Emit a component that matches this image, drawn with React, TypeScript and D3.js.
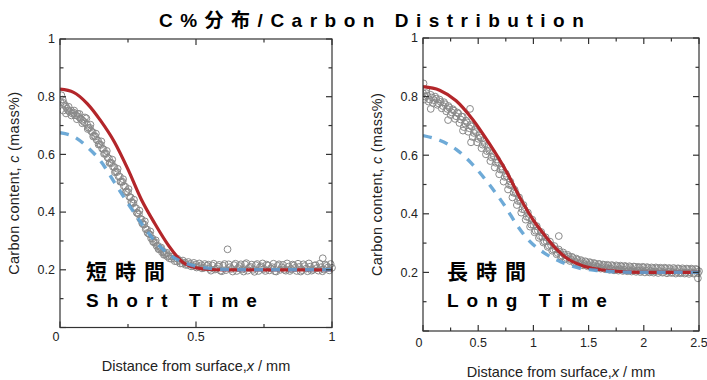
import React from 'react';
import * as d3 from 'd3';

const TITLE = 'C%分布/Carbon Distribution';
const Y_TICKS = [0, 0.2, 0.4, 0.6, 0.8, 1];
const Y_MINOR = [0.1, 0.3, 0.5, 0.7, 0.9];
const SHORT_X_TICKS = [0, 0.5, 1];
const SHORT_X_MINOR = [0.25, 0.75];
const LONG_X_TICKS = [0, 0.5, 1, 1.5, 2, 2.5];
const LONG_X_MINOR = [0.25, 0.75, 1.25, 1.75, 2.25];

// Short time: measured points [x mm, C mass%]
const SHORT_MEASURED: [number, number][] = [
  [0.005, 0.805], [0.01, 0.79], [0.014, 0.778], [0.018, 0.77], [0.022, 0.765], [0.026, 0.758], [0.03, 0.752], [0.035, 0.748],
  [0.04, 0.752], [0.045, 0.742], [0.05, 0.745], [0.055, 0.736], [0.06, 0.735], [0.065, 0.741], [0.07, 0.73], [0.075, 0.724],
  [0.08, 0.72], [0.085, 0.716], [0.09, 0.711], [0.097, 0.725], [0.1, 0.703], [0.105, 0.692], [0.11, 0.692], [0.115, 0.68],
  [0.12, 0.677], [0.125, 0.665], [0.13, 0.662], [0.135, 0.65], [0.14, 0.648], [0.145, 0.636], [0.15, 0.633], [0.155, 0.62],
  [0.16, 0.618], [0.165, 0.604], [0.17, 0.602], [0.175, 0.589], [0.18, 0.586], [0.185, 0.572], [0.19, 0.57], [0.195, 0.557],
  [0.2, 0.556], [0.205, 0.541], [0.21, 0.539], [0.215, 0.524], [0.22, 0.523], [0.225, 0.506], [0.23, 0.505], [0.235, 0.49],
  [0.24, 0.488], [0.245, 0.472], [0.25, 0.469], [0.255, 0.453], [0.26, 0.451], [0.265, 0.433], [0.27, 0.431], [0.275, 0.416],
  [0.28, 0.413], [0.285, 0.396], [0.29, 0.393], [0.295, 0.377], [0.3, 0.375], [0.305, 0.358], [0.31, 0.357], [0.315, 0.341],
  [0.32, 0.34], [0.325, 0.326], [0.33, 0.323], [0.335, 0.309], [0.34, 0.308], [0.345, 0.295], [0.35, 0.295], [0.355, 0.283],
  [0.36, 0.283], [0.365, 0.271], [0.37, 0.273], [0.375, 0.261], [0.38, 0.263], [0.385, 0.253], [0.39, 0.255], [0.395, 0.246],
  [0.4, 0.248], [0.41, 0.238], [0.42, 0.239], [0.43, 0.229], [0.44, 0.231], [0.45, 0.222], [0.46, 0.225], [0.47, 0.217],
  [0.48, 0.221], [0.49, 0.213], [0.5, 0.218], [0.51, 0.21], [0.52, 0.216], [0.53, 0.207], [0.54, 0.214], [0.55, 0.203],
  [0.56, 0.215], [0.57, 0.201], [0.58, 0.212], [0.59, 0.197], [0.6, 0.214], [0.61, 0.199], [0.616, 0.271], [0.62, 0.219],
  [0.63, 0.203], [0.64, 0.216], [0.65, 0.196], [0.66, 0.213], [0.67, 0.201], [0.68, 0.219], [0.69, 0.197], [0.7, 0.21],
  [0.71, 0.2], [0.72, 0.216], [0.73, 0.196], [0.74, 0.212], [0.75, 0.203], [0.76, 0.218], [0.77, 0.198], [0.78, 0.209],
  [0.79, 0.195], [0.8, 0.214], [0.81, 0.2], [0.82, 0.217], [0.83, 0.197], [0.84, 0.211], [0.85, 0.202], [0.86, 0.215],
  [0.87, 0.196], [0.88, 0.21], [0.89, 0.199], [0.9, 0.213], [0.91, 0.195], [0.92, 0.211], [0.93, 0.2], [0.94, 0.216],
  [0.95, 0.197], [0.96, 0.209], [0.966, 0.24], [0.97, 0.201], [0.98, 0.214], [0.99, 0.198], [1.0, 0.207],
];
const SHORT_MEASURED_B: [number, number][] = [
  [0.003, 0.78], [0.012, 0.752], [0.022, 0.742], [0.032, 0.765], [0.042, 0.735], [0.052, 0.752], [0.062, 0.722], [0.072, 0.74],
  [0.082, 0.708], [0.092, 0.728], [0.102, 0.688], [0.112, 0.703], [0.122, 0.662], [0.132, 0.672], [0.142, 0.634], [0.152, 0.645],
  [0.162, 0.602], [0.172, 0.612], [0.182, 0.57], [0.192, 0.582], [0.202, 0.538], [0.212, 0.55], [0.222, 0.505], [0.232, 0.514],
  [0.242, 0.47], [0.252, 0.48], [0.262, 0.435], [0.272, 0.443], [0.282, 0.398], [0.292, 0.405], [0.302, 0.362], [0.312, 0.368],
  [0.322, 0.328], [0.332, 0.333], [0.342, 0.298], [0.352, 0.302], [0.362, 0.272], [0.372, 0.277], [0.382, 0.252], [0.392, 0.259],
  [0.402, 0.24], [0.412, 0.246], [0.422, 0.23], [0.432, 0.238], [0.442, 0.222], [0.452, 0.232], [0.462, 0.217], [0.472, 0.227],
  [0.482, 0.212], [0.492, 0.224], [0.502, 0.208], [0.512, 0.222], [0.522, 0.205], [0.532, 0.22], [0.545, 0.218], [0.555, 0.197],
  [0.565, 0.221], [0.575, 0.204], [0.585, 0.217], [0.595, 0.195], [0.605, 0.22], [0.625, 0.209], [0.635, 0.194], [0.645, 0.221],
  [0.655, 0.206], [0.665, 0.219], [0.675, 0.194], [0.685, 0.223], [0.695, 0.207], [0.705, 0.218], [0.715, 0.193], [0.725, 0.22],
  [0.735, 0.209], [0.745, 0.222], [0.755, 0.196], [0.765, 0.215], [0.775, 0.205], [0.785, 0.221], [0.795, 0.194], [0.805, 0.219],
  [0.815, 0.208], [0.825, 0.2], [0.835, 0.222], [0.845, 0.196], [0.855, 0.218], [0.865, 0.207], [0.875, 0.221], [0.885, 0.194],
  [0.895, 0.219], [0.905, 0.204], [0.915, 0.222], [0.925, 0.197], [0.935, 0.215], [0.945, 0.206], [0.955, 0.221], [0.965, 0.195],
  [0.975, 0.218], [0.985, 0.208], [0.995, 0.22],
];
const SHORT_FIT: [number, number][] = [
  [0, 0.826], [0.05, 0.815], [0.1, 0.776], [0.15, 0.716], [0.2, 0.643], [0.25, 0.548], [0.3, 0.442], [0.35, 0.358],
  [0.4, 0.283], [0.45, 0.227], [0.5, 0.207], [0.55, 0.201], [0.6, 0.2], [1, 0.2],
];
const SHORT_CALC: [number, number][] = [
  [0, 0.675], [0.05, 0.662], [0.1, 0.626], [0.15, 0.576], [0.2, 0.503], [0.25, 0.43], [0.3, 0.36], [0.35, 0.298],
  [0.4, 0.254], [0.45, 0.227], [0.5, 0.212], [0.55, 0.205], [0.6, 0.201], [0.7, 0.2], [1, 0.2],
];

// Long time
const LONG_MEASURED: [number, number][] = [
  [0.0, 0.812], [0.005, 0.845], [0.02, 0.8], [0.03, 0.822], [0.04, 0.803], [0.06, 0.79], [0.07, 0.758], [0.08, 0.797],
  [0.1, 0.788], [0.12, 0.793], [0.14, 0.777], [0.16, 0.782], [0.18, 0.768], [0.2, 0.774], [0.22, 0.758], [0.227, 0.72],
  [0.24, 0.762], [0.26, 0.746], [0.28, 0.752], [0.3, 0.733], [0.32, 0.742], [0.34, 0.722], [0.36, 0.731], [0.362, 0.684],
  [0.38, 0.708], [0.4, 0.712], [0.42, 0.692], [0.426, 0.758], [0.435, 0.644], [0.44, 0.698], [0.46, 0.676], [0.48, 0.679],
  [0.5, 0.656], [0.52, 0.66], [0.54, 0.636], [0.56, 0.638], [0.58, 0.614], [0.6, 0.616], [0.62, 0.593], [0.64, 0.596],
  [0.66, 0.574], [0.68, 0.575], [0.7, 0.551], [0.72, 0.551], [0.74, 0.526], [0.76, 0.527], [0.78, 0.499], [0.8, 0.497],
  [0.82, 0.472], [0.84, 0.47], [0.86, 0.444], [0.88, 0.443], [0.9, 0.416], [0.92, 0.414], [0.94, 0.39], [0.96, 0.388],
  [0.98, 0.363], [1.0, 0.362], [1.02, 0.342], [1.04, 0.343], [1.06, 0.324], [1.08, 0.322], [1.1, 0.306], [1.12, 0.307],
  [1.14, 0.291], [1.16, 0.293], [1.18, 0.278], [1.2, 0.279], [1.22, 0.266], [1.23, 0.324], [1.24, 0.27], [1.26, 0.257],
  [1.28, 0.261], [1.3, 0.249], [1.32, 0.254], [1.34, 0.243], [1.36, 0.249], [1.38, 0.236], [1.4, 0.243], [1.42, 0.232],
  [1.44, 0.238], [1.46, 0.228], [1.48, 0.235], [1.5, 0.225], [1.52, 0.232], [1.54, 0.222], [1.56, 0.229], [1.58, 0.219],
  [1.6, 0.228], [1.62, 0.218], [1.64, 0.225], [1.66, 0.214], [1.68, 0.223], [1.7, 0.213], [1.72, 0.222], [1.74, 0.21],
  [1.76, 0.221], [1.78, 0.21], [1.8, 0.22], [1.82, 0.209], [1.84, 0.219], [1.86, 0.207], [1.88, 0.218], [1.9, 0.208],
  [1.92, 0.219], [1.94, 0.206], [1.96, 0.216], [1.98, 0.205], [2.0, 0.217], [2.02, 0.206], [2.04, 0.215], [2.06, 0.204],
  [2.08, 0.214], [2.1, 0.203], [2.12, 0.214], [2.14, 0.204], [2.16, 0.213], [2.18, 0.201], [2.2, 0.213], [2.22, 0.202],
  [2.24, 0.212], [2.26, 0.2], [2.28, 0.211], [2.3, 0.201], [2.32, 0.212], [2.34, 0.2], [2.36, 0.21], [2.38, 0.199],
  [2.4, 0.211], [2.42, 0.2], [2.44, 0.21], [2.46, 0.198], [2.48, 0.209], [2.49, 0.18], [2.5, 0.204],
];
const LONG_MEASURED_B: [number, number][] = [
  [0.01, 0.79], [0.03, 0.812], [0.05, 0.783], [0.07, 0.806], [0.09, 0.778], [0.11, 0.8], [0.13, 0.772], [0.15, 0.79],
  [0.17, 0.76], [0.19, 0.781], [0.21, 0.75], [0.23, 0.768], [0.25, 0.737], [0.27, 0.757], [0.29, 0.724], [0.31, 0.746],
  [0.33, 0.71], [0.35, 0.732], [0.37, 0.696], [0.39, 0.718], [0.41, 0.68], [0.43, 0.703], [0.45, 0.662], [0.47, 0.686],
  [0.49, 0.644], [0.51, 0.668], [0.53, 0.624], [0.55, 0.649], [0.57, 0.603], [0.59, 0.628], [0.61, 0.58], [0.63, 0.607],
  [0.65, 0.558], [0.67, 0.585], [0.69, 0.535], [0.71, 0.561], [0.73, 0.51], [0.75, 0.537], [0.77, 0.483], [0.79, 0.51],
  [0.81, 0.456], [0.83, 0.482], [0.85, 0.43], [0.87, 0.456], [0.89, 0.404], [0.91, 0.43], [0.93, 0.38], [0.95, 0.404],
  [0.97, 0.356], [0.99, 0.38], [1.01, 0.337], [1.03, 0.358], [1.05, 0.318], [1.07, 0.338], [1.09, 0.302], [1.11, 0.32],
  [1.13, 0.287], [1.15, 0.305], [1.17, 0.274], [1.19, 0.29], [1.21, 0.262], [1.23, 0.278], [1.25, 0.254], [1.27, 0.268],
  [1.29, 0.245], [1.31, 0.26], [1.33, 0.239], [1.35, 0.253], [1.37, 0.233], [1.39, 0.247], [1.41, 0.228], [1.43, 0.242],
  [1.45, 0.224], [1.47, 0.238], [1.49, 0.221], [1.51, 0.235], [1.53, 0.218], [1.55, 0.232], [1.57, 0.215], [1.59, 0.229],
  [1.61, 0.213], [1.63, 0.227], [1.65, 0.211], [1.67, 0.226], [1.69, 0.209], [1.71, 0.225], [1.73, 0.207], [1.75, 0.224],
  [1.77, 0.206], [1.79, 0.223], [1.81, 0.205], [1.83, 0.222], [1.85, 0.204], [1.87, 0.221], [1.89, 0.203], [1.91, 0.22],
  [1.93, 0.202], [1.95, 0.219], [1.97, 0.201], [1.99, 0.219], [2.01, 0.2], [2.03, 0.218], [2.05, 0.2], [2.07, 0.217],
  [2.09, 0.199], [2.11, 0.217], [2.13, 0.198], [2.15, 0.216], [2.17, 0.199], [2.19, 0.216], [2.21, 0.197], [2.23, 0.215],
  [2.25, 0.198], [2.27, 0.215], [2.29, 0.196], [2.31, 0.214], [2.33, 0.197], [2.35, 0.214], [2.37, 0.196], [2.39, 0.213],
  [2.41, 0.195], [2.43, 0.213], [2.45, 0.196], [2.47, 0.212], [2.49, 0.197],
];
const LONG_FIT: [number, number][] = [
  [0, 0.834], [0.15, 0.822], [0.3, 0.786], [0.45, 0.722], [0.6, 0.64], [0.75, 0.548], [0.9, 0.44], [1.0, 0.378],
  [1.1, 0.328], [1.2, 0.283], [1.3, 0.249], [1.45, 0.222], [1.6, 0.21], [1.75, 0.204], [2.0, 0.2], [2.5, 0.2],
];
const LONG_CALC: [number, number][] = [
  [0, 0.667], [0.15, 0.651], [0.3, 0.62], [0.45, 0.568], [0.6, 0.5], [0.75, 0.422], [0.85, 0.362], [0.95, 0.313],
  [1.1, 0.266], [1.25, 0.236], [1.4, 0.216], [1.6, 0.206], [1.8, 0.201], [2.0, 0.2], [2.5, 0.2],
];

const SANS = "'Liberation Sans', Arial, Helvetica, sans-serif";
const BOLD = "'Liberation Sans', 'Noto Sans CJK JP', Arial, sans-serif";
const RED = '#b3262a';
const BLUE = '#5ea1d3';
const GRAY = '#8a8a8a';

type PanelProps = {
  x0: number; x1: number; yTop: number; yBot: number; xMax: number;
  xTicks: number[]; xMinor: number[];
  measured: [number, number][][]; fit: [number, number][]; calc: [number, number][];
  jp: string; en: string; labelX: number;
  yTitleX: number; xTitleY: number; xTickY: number;
};

function Panel(p: PanelProps) {
  const x = d3.scaleLinear().domain([0, p.xMax]).range([p.x0, p.x1]);
  const y = d3.scaleLinear().domain([0, 1]).range([p.yBot, p.yTop]);
  const line = d3.line<[number, number]>().x(d => x(d[0])).y(d => y(d[1])).curve(d3.curveMonotoneX);
  const MAJ = 6, MIN = 3.5;
  const axisColor = '#333';
  const clipId = 'clip' + p.x0;
  return (
    <g>
      <defs>
        <clipPath id={clipId}>
          <rect x={p.x0} y={p.yTop - 6} width={p.x1 - p.x0 + 6} height={p.yBot - p.yTop + 6} />
        </clipPath>
      </defs>
      <g clipPath={`url(#${clipId})`}>
        {p.measured.map((set, si) => set.map((d, i) => (
          <circle key={si + '-' + i} cx={x(d[0])} cy={y(d[1])} r={3.4} fill="none" stroke={GRAY} strokeWidth={1} />
        )))}
        <path d={line(p.fit) || ''} fill="none" stroke={RED} strokeWidth={3.2} />
        <path d={line(p.calc) || ''} fill="none" stroke={BLUE} strokeWidth={3.4} strokeDasharray="9 8" strokeOpacity={0.9} />
      </g>
      <rect x={p.x0} y={p.yTop} width={p.x1 - p.x0} height={p.yBot - p.yTop} fill="none" stroke={axisColor} strokeWidth={1.2} />
      {Y_TICKS.map(t => (
        <g key={'y' + t}>
          <line x1={p.x0} x2={p.x0 + MAJ} y1={y(t)} y2={y(t)} stroke={axisColor} strokeWidth={1.2} />
          <line x1={p.x1} x2={p.x1 - MAJ} y1={y(t)} y2={y(t)} stroke={axisColor} strokeWidth={1.2} />
          {t > 0 && (
            <text x={p.x0 - 5} y={y(t) + 4.3} textAnchor="end" fontSize={12.5} fontFamily={SANS} fill="#222">{String(t)}</text>
          )}
        </g>
      ))}
      {Y_MINOR.map(t => (
        <g key={'ym' + t}>
          <line x1={p.x0} x2={p.x0 + MIN} y1={y(t)} y2={y(t)} stroke={axisColor} strokeWidth={1.2} />
          <line x1={p.x1} x2={p.x1 - MIN} y1={y(t)} y2={y(t)} stroke={axisColor} strokeWidth={1.2} />
        </g>
      ))}
      {p.xTicks.map(t => (
        <g key={'x' + t}>
          <line x1={x(t)} x2={x(t)} y1={p.yBot} y2={p.yBot - MAJ} stroke={axisColor} strokeWidth={1.2} />
          <line x1={x(t)} x2={x(t)} y1={p.yTop} y2={p.yTop + MAJ} stroke={axisColor} strokeWidth={1.2} />
          <text x={x(t) - (t === 0 ? 4 : 0)} y={p.xTickY} textAnchor="middle" fontSize={12.5} fontFamily={SANS} fill="#222">{String(t)}</text>
        </g>
      ))}
      {p.xMinor.map(t => (
        <g key={'xm' + t}>
          <line x1={x(t)} x2={x(t)} y1={p.yBot} y2={p.yBot - MIN} stroke={axisColor} strokeWidth={1.2} />
          <line x1={x(t)} x2={x(t)} y1={p.yTop} y2={p.yTop + MIN} stroke={axisColor} strokeWidth={1.2} />
        </g>
      ))}
      <text transform={`translate(${p.yTitleX},${(p.yTop + p.yBot) / 2}) rotate(-90)`} textAnchor="middle" fontSize={14.5} letterSpacing={0.3} fontFamily={SANS} fill="#222">
        Carbon content, <tspan fontStyle="italic">c</tspan> (mass%)
      </text>
      <text x={(p.x0 + p.x1) / 2} y={p.xTitleY} textAnchor="middle" fontSize={14.5} fontFamily={SANS} fill="#222">
        Distance from surface,<tspan fontStyle="italic">x</tspan> / mm
      </text>
      <text x={p.labelX} y={279} fontSize={21} fontWeight="bold" fontFamily={BOLD} letterSpacing={8} fill="#000">{p.jp}</text>
      <text x={p.labelX} y={307} fontSize={19} fontWeight="bold" fontFamily={BOLD} letterSpacing={8} fill="#000">{p.en}</text>
    </g>
  );
}

export default function App() {
  return (
    <svg width={707} height={380} style={{ position: 'absolute', left: 0, top: 0, background: '#fff' }}>
      <rect width={707} height={380} fill="#fff" />
      <text x={159} y={27} fontSize={19} fontWeight="bold" fontFamily={BOLD} letterSpacing={7.5} fill="#000">{TITLE}</text>
      <Panel x0={60} x1={332} yTop={39} yBot={327.5} xMax={1} xTicks={SHORT_X_TICKS} xMinor={SHORT_X_MINOR}
        measured={[SHORT_MEASURED, SHORT_MEASURED_B]} fit={SHORT_FIT} calc={SHORT_CALC} jp="短時間" en="Short Time" labelX={86}
        yTitleX={19} xTitleY={370.5} xTickY={341} />
      <Panel x0={423} x1={699} yTop={38} yBot={331} xMax={2.5} xTicks={LONG_X_TICKS} xMinor={LONG_X_MINOR}
        measured={[LONG_MEASURED, LONG_MEASURED_B]} fit={LONG_FIT} calc={LONG_CALC} jp="長時間" en="Long Time" labelX={447}
        yTitleX={381.5} xTitleY={376.5} xTickY={346.5} />
    </svg>
  );
}
